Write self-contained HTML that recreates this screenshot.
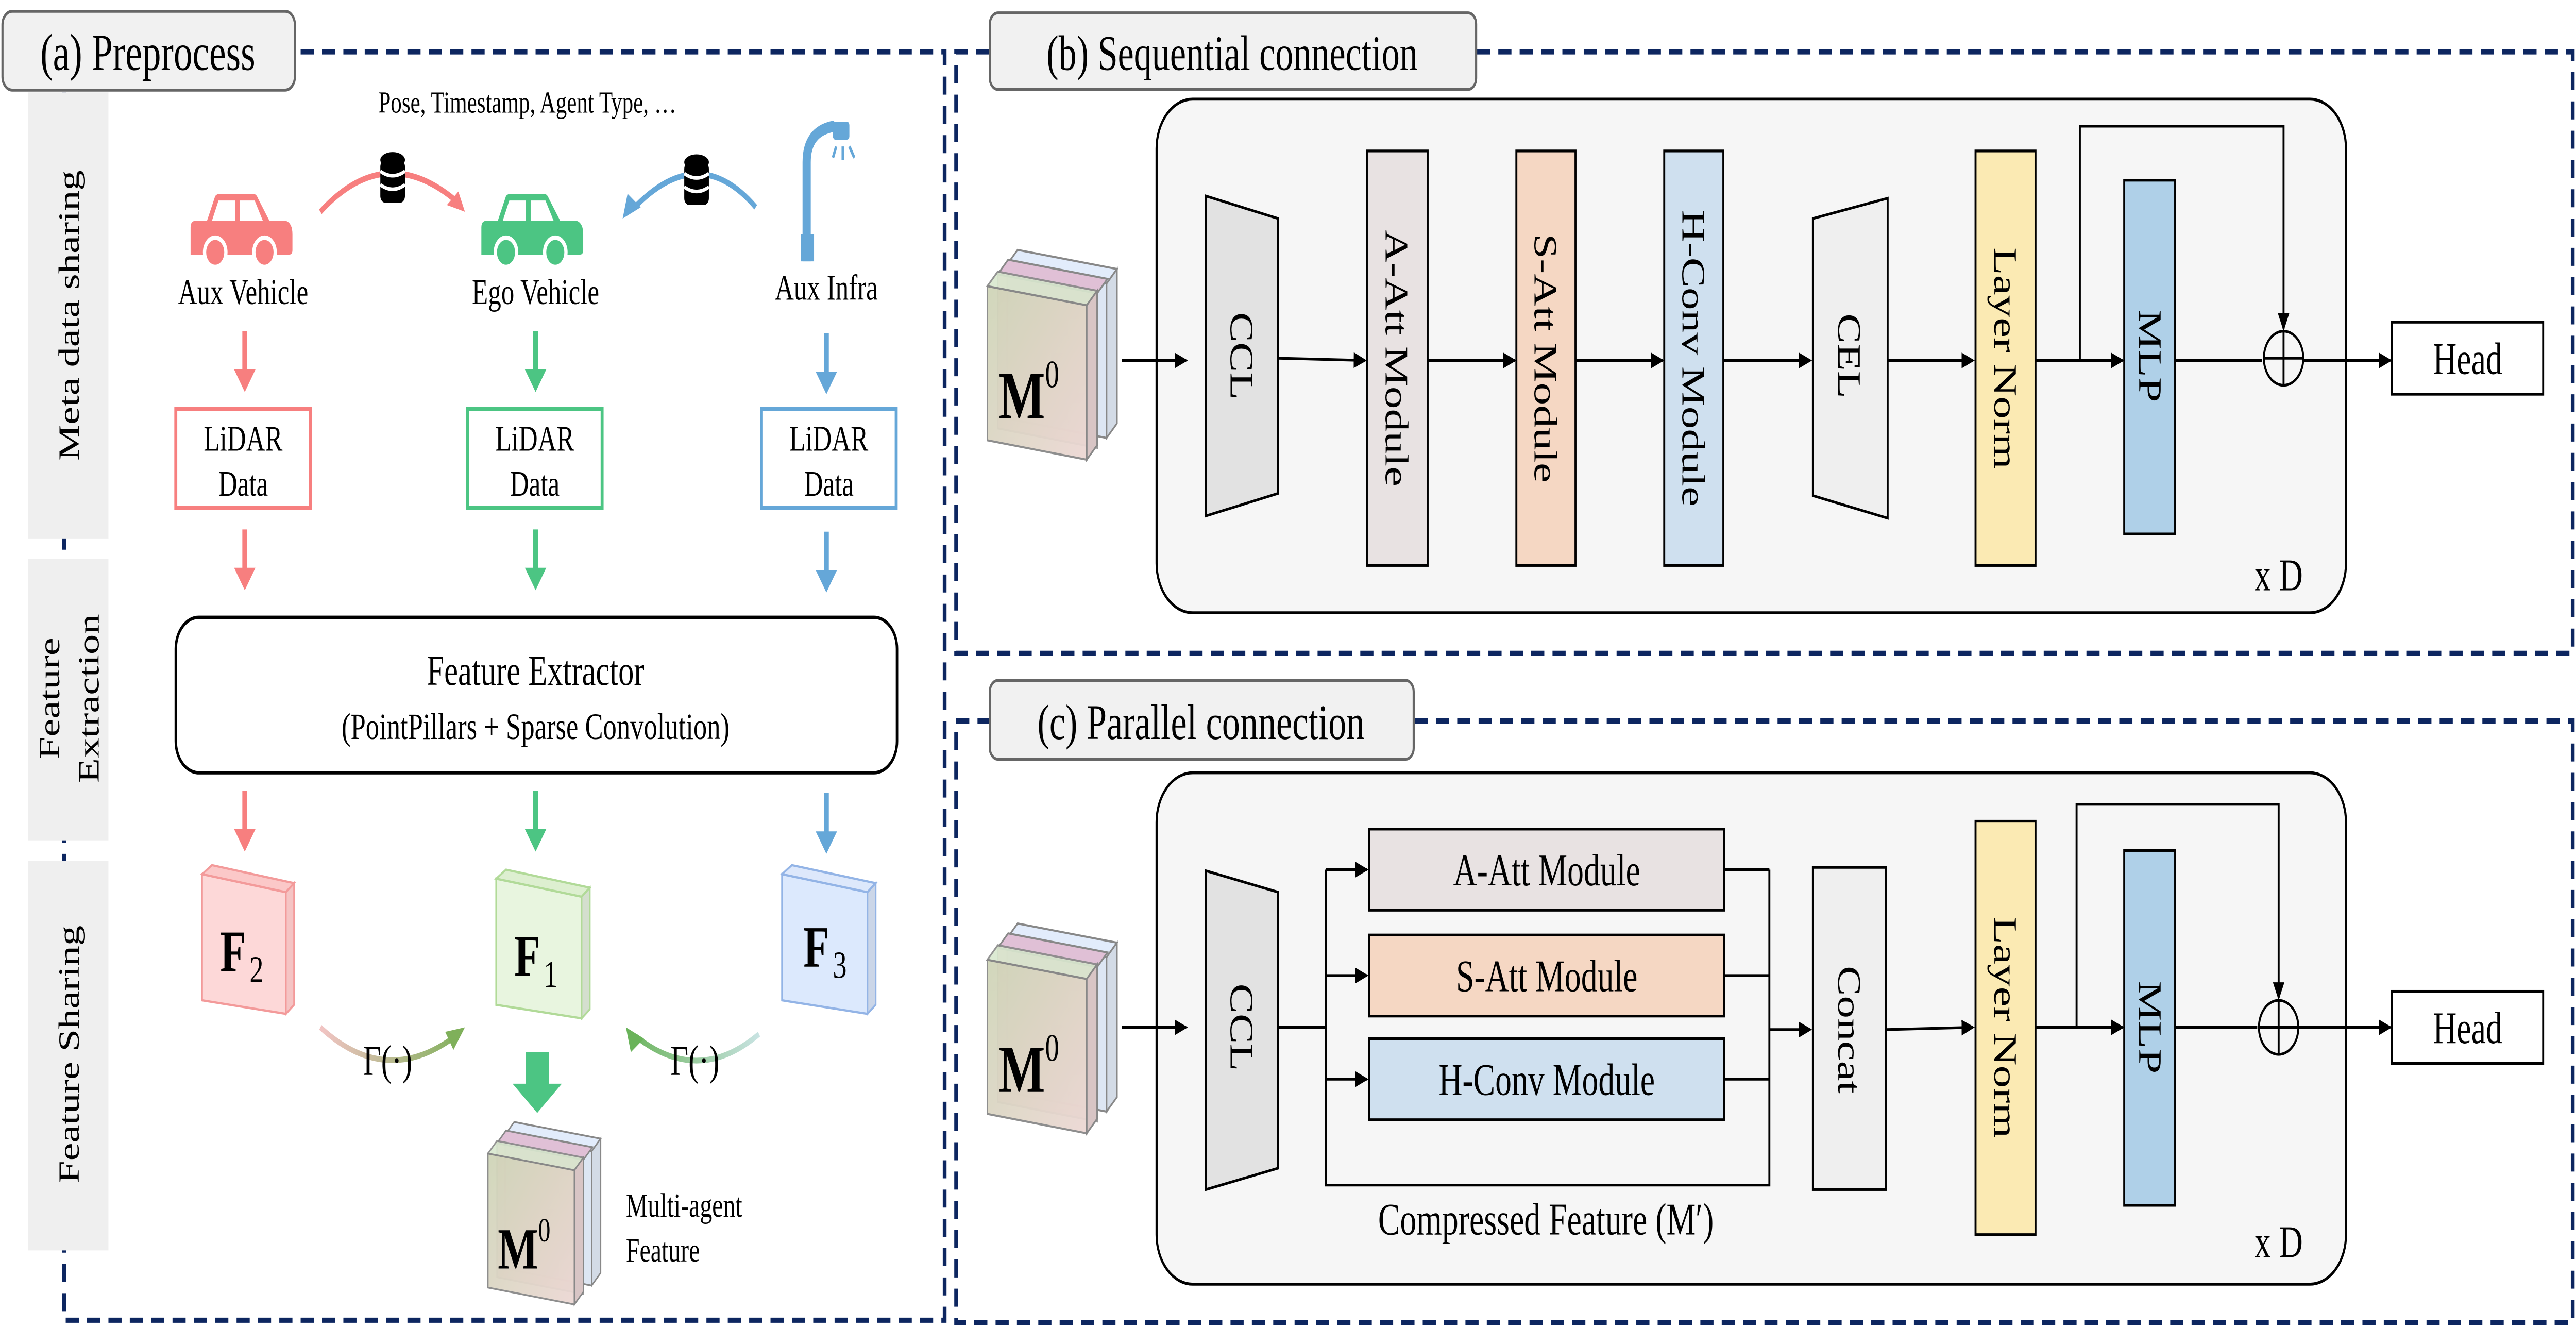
<!DOCTYPE html>
<html><head><meta charset="utf-8"><style>
html,body{margin:0;padding:0;background:#fff;width:100vw;height:100vh;overflow:hidden;}
svg{display:block;position:absolute;left:0;top:0;width:100vw;height:100vh;}
svg text{font-family:"Liberation Serif","DejaVu Serif",serif;}
</style></head><body>
<svg viewBox="0 0 1568 589" preserveAspectRatio="none" font-family="Liberation Serif, DejaVu Serif, serif" xmlns="http://www.w3.org/2000/svg">
<defs>
<marker id="ah" markerWidth="8" markerHeight="8" refX="7" refY="4" orient="auto" markerUnits="userSpaceOnUse"><path d="M0,0.5 L8,4 L0,7.5 Z" fill="#000"/></marker>
<linearGradient id="gL" gradientUnits="userSpaceOnUse" x1="195" y1="0" x2="282" y2="0"><stop offset="0" stop-color="#f2c4c4"/><stop offset="1" stop-color="#7fb05a"/></linearGradient>
<linearGradient id="gR" gradientUnits="userSpaceOnUse" x1="462" y1="0" x2="381" y2="0"><stop offset="0" stop-color="#c8e3e2"/><stop offset="1" stop-color="#6ab35a"/></linearGradient>
<linearGradient id="mf" x1="0" y1="0" x2="1" y2="1"><stop offset="0" stop-color="#cfd5b8"/><stop offset="1" stop-color="#ecd8d4"/></linearGradient>
<g id="car"><path d="M0,15 Q0,12 3,12 L10,12 L15,1 Q16,0 18,0 L38,0 Q40,0 41,2 L48,12 L58,12 Q62,13 62,18 L62,25 Q62,27 60,27 L0,27 Z"/><path d="M17,3 L27,3 L27,12 L13,12 Z M30,3 L39,3 L44,12 L30,12 Z" fill="#fff"/><circle cx="15" cy="26" r="6.5" stroke="#fff" stroke-width="2"/><circle cx="45" cy="26" r="6.5" stroke="#fff" stroke-width="2"/></g>
<g id="db"><ellipse cx="0" cy="0" rx="7.5" ry="3.5"/><rect x="-7.5" y="0" width="15" height="19" rx="3"/><path d="M-7.5,5 Q0,9 7.5,5 M-7.5,11 Q0,15 7.5,11" stroke="#fff" stroke-width="1.6" fill="none"/></g>
<g id="m0">
<path d="M10.5,-8.4 L63.1,-1 L68.6,-6.6 L16,-14 Z" fill="#e2ecfb" stroke="#888" stroke-width="0.8"/>
<path d="M10.5,-8.4 L63.1,-1 L63.1,58.6 L10.5,51.1 Z" fill="#dde6f3" stroke="#888" stroke-width="0.8"/>
<path d="M63.1,-1 L68.6,-6.6 L68.6,53 L63.1,58.6 Z" fill="#d3dbe6" stroke="#888" stroke-width="0.8"/>
<path d="M5.5,-4.6 L58.1,2.8 L58.1,62.4 L5.5,54.9 Z" fill="#e5a9b8" stroke="#888" stroke-width="0.8" opacity="0.85"/>
<path d="M5.5,-4.6 L58.1,2.8 L63.6,-2.8 L11,-10.2 Z" fill="#e0c0d6" stroke="#888" stroke-width="0.8"/>
<path d="M0,0 L52.6,7.4 L52.6,67 L0,59.5 Z" fill="url(#mf)" stroke="#888" stroke-width="0.8" opacity="0.95"/>
<path d="M0,0 L52.6,7.4 L58.1,1.8 L5.5,-5.6 Z" fill="#d9e8cf" stroke="#888" stroke-width="0.8" opacity="0.9"/>
<path d="M52.6,7.4 L58.1,1.8 L58.1,61.4 L52.6,67 Z" fill="#d8c5c5" stroke="#888" stroke-width="0.8"/>
<text x="6" y="51" font-size="26" font-weight="bold">M<tspan font-size="15" font-weight="normal" dy="-12">0</tspan></text>
</g>
</defs>

<path d="M183,23 L575,23 L575,586 L39,586 L39,40" fill="none" stroke="#0d2660" stroke-width="2.3" stroke-dasharray="8,5"/>
<rect x="1.5" y="5" width="178" height="35" rx="6" fill="#f1f1f1" stroke="#666" stroke-width="1.3"/>
<text x="90" y="31" font-size="23" text-anchor="middle">(a) Preprocess</text>

<rect x="17" y="41" width="49" height="198" fill="#efefef"/>
<rect x="17" y="248" width="49" height="125" fill="#efefef"/>
<rect x="17" y="382" width="49" height="173" fill="#efefef"/>
<text transform="translate(48,140) rotate(-90)" font-size="18" text-anchor="middle">Meta data sharing</text>
<text transform="translate(36,310) rotate(-90)" font-size="18" text-anchor="middle">Feature</text>
<text transform="translate(60,310) rotate(-90)" font-size="18" text-anchor="middle">Extraction</text>
<text transform="translate(48,468) rotate(-90)" font-size="18" text-anchor="middle">Feature Sharing</text>

<text x="321" y="50" font-size="13.5" text-anchor="middle">Pose, Timestamp, Agent Type, …</text>
<use href="#car" x="116" y="86" fill="#f77f7f"/>
<use href="#car" x="293" y="86" fill="#4cc583"/>
<path d="M491,116 L491,72 Q491,58 508,56" fill="none" stroke="#65a7d8" stroke-width="5"/>
<rect x="487.5" y="104" width="8" height="12" fill="#65a7d8"/>
<rect x="507" y="54" width="10" height="8" rx="1.5" fill="#65a7d8"/>
<path d="M509,65 L507,70 M513,65 L513,71 M517,65 L520,70" stroke="#65a7d8" stroke-width="1.5"/>
<path d="M195,94 Q235,62 279,90" fill="none" stroke="#f77f7f" stroke-width="2.6"/>
<path d="M283,94 L272,91 L279,85 Z" fill="#f77f7f"/>
<use href="#db" x="239" y="71" fill="#000"/>
<path d="M460,92 Q425,62 385,93" fill="none" stroke="#65a7d8" stroke-width="2.6"/>
<path d="M379,97 L382,86 L390,92 Z" fill="#65a7d8"/>
<use href="#db" x="424" y="72" fill="#000"/>
<text x="148" y="135" font-size="16" text-anchor="middle">Aux Vehicle</text>
<text x="326" y="135" font-size="16" text-anchor="middle">Ego Vehicle</text>
<text x="503" y="133" font-size="16" text-anchor="middle">Aux Infra</text>

<g id="darr1">
<path d="M147.5,147 h3 v17 h5 l-6.5,10 l-6.5,-10 h5 z" fill="#f77f7f"/>
<path d="M324.5,147 h3 v17 h5 l-6.5,10 l-6.5,-10 h5 z" fill="#4cc583"/>
<path d="M501.5,148 h3 v17 h5 l-6.5,10 l-6.5,-10 h5 z" fill="#65a7d8"/>
</g>
<use href="#darr1" y="88"/>
<use href="#darr1" y="204"/>

<rect x="107" y="181.5" width="82" height="44" fill="#fff" stroke="#f77f7f" stroke-width="1.8"/>
<rect x="284.5" y="181.5" width="82" height="44" fill="#fff" stroke="#4cc583" stroke-width="1.8"/>
<rect x="463.5" y="181.5" width="82" height="44" fill="#fff" stroke="#65a7d8" stroke-width="1.8"/>
<g font-size="16" text-anchor="middle">
<text x="148" y="200">LiDAR</text><text x="148" y="220">Data</text>
<text x="325.5" y="200">LiDAR</text><text x="325.5" y="220">Data</text>
<text x="504.5" y="200">LiDAR</text><text x="504.5" y="220">Data</text>
</g>

<rect x="107" y="274" width="439" height="69" rx="14" fill="#fff" stroke="#000" stroke-width="1.5"/>
<text x="326" y="304" font-size="19" text-anchor="middle">Feature Extractor</text>
<text x="326" y="328" font-size="16.5" text-anchor="middle">(PointPillars + Sparse Convolution)</text>

<g stroke-width="1">
<path d="M123,388 L174,396 L174,450 L123,444 Z" fill="#fdd8d8" stroke="#f39a9a"/>
<path d="M123,388 L129,384 L179,392 L174,396 Z" fill="#fbc8c8" stroke="#f39a9a"/>
<path d="M174,396 L179,392 L179,446 L174,450 Z" fill="#f5c4c4" stroke="#f39a9a"/>
<path d="M302,390 L354,398 L354,452 L302,446 Z" fill="#e8f5df" stroke="#b1da98"/>
<path d="M302,390 L308,386 L359,394 L354,398 Z" fill="#ddefd0" stroke="#b1da98"/>
<path d="M354,398 L359,394 L359,448 L354,452 Z" fill="#d4dfce" stroke="#b1da98"/>
<path d="M476,388 L528,396 L528,450 L476,444 Z" fill="#dce9fd" stroke="#93b4e6"/>
<path d="M476,388 L482,384 L533,392 L528,396 Z" fill="#dde8fb" stroke="#93b4e6"/>
<path d="M528,396 L533,392 L533,446 L528,450 Z" fill="#cbd6e8" stroke="#93b4e6"/>
</g>
<text x="134" y="431" font-size="26" font-weight="bold">F<tspan font-size="17" font-weight="normal" dx="2" dy="5">2</tspan></text>
<text x="313" y="433" font-size="26" font-weight="bold">F<tspan font-size="17" font-weight="normal" dx="2" dy="5">1</tspan></text>
<text x="489" y="429" font-size="26" font-weight="bold">F<tspan font-size="17" font-weight="normal" dx="2" dy="5">3</tspan></text>

<path d="M195,456 Q235,483 277,460" fill="none" stroke="url(#gL)" stroke-width="2.5"/>
<path d="M283,456 L271,458 L276,466 Z" fill="#7fb05a"/>
<path d="M462,459 Q425,482 387,460" fill="none" stroke="url(#gR)" stroke-width="2.5"/>
<path d="M381,456 L384,467 L392,461 Z" fill="#6ab35a"/>
<text x="236" y="477" font-size="19" text-anchor="middle">Γ(·)</text>
<text x="423" y="477" font-size="19" text-anchor="middle">Γ(·)</text>

<path d="M320,467 h14 v14 h8 l-15,13 l-15,-13 h8 z" fill="#4cc583"/>
<use href="#m0" transform="translate(297,512)"/>
<text x="381" y="540" font-size="15">Multi-agent</text>
<text x="381" y="560" font-size="15">Feature</text>

<path d="M899,23 L1566,23 L1566,290 L582,290 L582,23 L602,23" fill="none" stroke="#0d2660" stroke-width="2.3" stroke-dasharray="8,5"/>
<rect x="602.5" y="5.7" width="296" height="34" rx="5" fill="#f1f1f1" stroke="#666" stroke-width="1.3"/>
<text x="750" y="31" font-size="22" text-anchor="middle">(b) Sequential connection</text>
<rect x="704" y="44" width="724" height="228" rx="22" fill="#f6f6f6" stroke="#000" stroke-width="1.3"/>
<use href="#m0" transform="translate(601,127) scale(1.15)"/>
<g stroke="#000" stroke-width="1.2" fill="none">
<line x1="683" y1="160" x2="722" y2="160" marker-end="url(#ah)"/>
<line x1="778" y1="159" x2="831" y2="160" marker-end="url(#ah)"/>
<line x1="869" y1="160" x2="922" y2="160" marker-end="url(#ah)"/>
<line x1="959" y1="160" x2="1012" y2="160" marker-end="url(#ah)"/>
<line x1="1049" y1="160" x2="1102" y2="160" marker-end="url(#ah)"/>
<line x1="1149" y1="160" x2="1201" y2="160" marker-end="url(#ah)"/>
<line x1="1239" y1="160" x2="1292" y2="160" marker-end="url(#ah)"/>
<line x1="1324" y1="160" x2="1377" y2="160"/>
<line x1="1402" y1="160" x2="1455" y2="160" marker-end="url(#ah)"/>
<path d="M1266,160 L1266,56 L1390,56 L1390,146" marker-end="url(#ah)"/>
<ellipse cx="1390" cy="159" rx="12" ry="12"/>
<line x1="1378" y1="159" x2="1402" y2="159"/><line x1="1390" y1="147" x2="1390" y2="171"/>
</g>
<g stroke="#000" stroke-width="1.2">
<path d="M734,87 L778,97 L778,219 L734,229 Z" fill="#e2e2e2"/>
<rect x="832" y="67" width="37" height="184" fill="#e8e2e2"/>
<rect x="923" y="67" width="36" height="184" fill="#f5d7c3"/>
<rect x="1013" y="67" width="36" height="184" fill="#cfe0ef"/>
<path d="M1103.5,97 L1149,88 L1149,230 L1103.5,220 Z" fill="#efefef"/>
<rect x="1202.5" y="67" width="36.5" height="184" fill="#fbeab3"/>
<rect x="1293" y="80" width="31" height="157" fill="#afd0e8"/>
<rect x="1456" y="143" width="92" height="32" fill="#fff"/>
</g>
<g font-size="20" text-anchor="middle">
<text transform="translate(749,158) rotate(90)">CCL</text>
<text transform="translate(843.5,159) rotate(90)">A-Att Module</text>
<text transform="translate(934,159) rotate(90)">S-Att Module</text>
<text transform="translate(1024,159) rotate(90)">H-Conv Module</text>
<text transform="translate(1119,158) rotate(90)">CEL</text>
<text transform="translate(1214,159) rotate(90)">Layer Norm</text>
<text transform="translate(1302,158) rotate(90)">MLP</text>
<text x="1502" y="166">Head</text>
<text x="1387" y="262">x D</text>
</g>

<path d="M861,320 L1566,320 L1566,587 L582,587 L582,320 L602,320" fill="none" stroke="#0d2660" stroke-width="2.3" stroke-dasharray="8,5"/>
<rect x="602.5" y="302" width="258" height="35" rx="5" fill="#f1f1f1" stroke="#666" stroke-width="1.3"/>
<text x="731" y="328" font-size="22" text-anchor="middle">(c) Parallel connection</text>
<rect x="704" y="343" width="724" height="227" rx="22" fill="#f6f6f6" stroke="#000" stroke-width="1.3"/>
<use href="#m0" transform="translate(601,426) scale(1.15)"/>
<g stroke="#000" stroke-width="1.2" fill="none">
<line x1="683" y1="456" x2="722" y2="456" marker-end="url(#ah)"/>
<line x1="778" y1="456" x2="807" y2="456"/>
<path d="M807,386 L807,526 L1077,526 L1077,386"/>
<line x1="807" y1="386" x2="832" y2="386" marker-end="url(#ah)"/>
<line x1="807" y1="433" x2="832" y2="433" marker-end="url(#ah)"/>
<line x1="807" y1="479" x2="832" y2="479" marker-end="url(#ah)"/>
<line x1="1049" y1="386" x2="1077" y2="386"/>
<line x1="1049" y1="433" x2="1077" y2="433"/>
<line x1="1049" y1="479" x2="1077" y2="479"/>
<line x1="1077" y1="457" x2="1102" y2="457" marker-end="url(#ah)"/>
<line x1="1148" y1="457" x2="1201" y2="456" marker-end="url(#ah)"/>
<line x1="1239" y1="456" x2="1292" y2="456" marker-end="url(#ah)"/>
<line x1="1324" y1="456" x2="1374" y2="456"/>
<line x1="1399" y1="456" x2="1455" y2="456" marker-end="url(#ah)"/>
<path d="M1264,456 L1264,357 L1387,357 L1387,443" marker-end="url(#ah)"/>
<ellipse cx="1387" cy="456" rx="12" ry="12"/>
<line x1="1375" y1="456" x2="1399" y2="456"/><line x1="1387" y1="444" x2="1387" y2="468"/>
</g>
<g stroke="#000" stroke-width="1.2">
<path d="M734,386.5 L778,396 L778,518.5 L734,528 Z" fill="#e2e2e2"/>
<rect x="833.5" y="368" width="216" height="36" fill="#e8e2e2"/>
<rect x="833.5" y="415" width="216" height="36" fill="#f5d7c3"/>
<rect x="833.5" y="461" width="216" height="36" fill="#cfe0ef"/>
<rect x="1103.5" y="385" width="44.5" height="143" fill="#efefef"/>
<rect x="1202.5" y="364.5" width="36.5" height="183.5" fill="#fbeab3"/>
<rect x="1293" y="377.5" width="31" height="157.5" fill="#afd0e8"/>
<rect x="1456" y="440" width="92" height="32" fill="#fff"/>
</g>
<g font-size="20" text-anchor="middle">
<text transform="translate(749,456) rotate(90)">CCL</text>
<text x="941.5" y="393">A-Att Module</text>
<text x="941.5" y="440">S-Att Module</text>
<text x="941.5" y="486">H-Conv Module</text>
<text transform="translate(1119,457) rotate(90)">Concat</text>
<text transform="translate(1214,456) rotate(90)">Layer Norm</text>
<text transform="translate(1302,456) rotate(90)">MLP</text>
<text x="1502" y="463">Head</text>
<text x="1387" y="558">x D</text>
<text x="941" y="548">Compressed Feature (M′)</text>
</g>
</svg>
</body></html>
